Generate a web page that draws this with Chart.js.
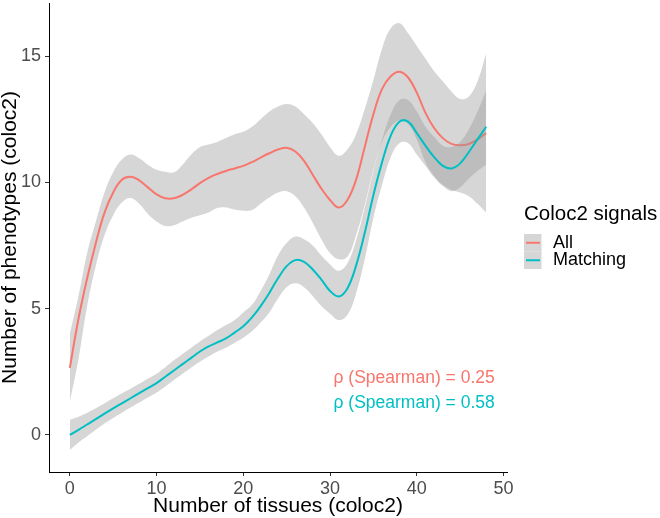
<!DOCTYPE html>
<html>
<head>
<meta charset="utf-8">
<script src="https://cdn.jsdelivr.net/npm/chart.js@4.4.0/dist/chart.umd.min.js"></script>
<style>
  html, body { margin: 0; padding: 0; background: #fff; }
  canvas { display: block; }
</style>
</head>
<body>
<canvas id="colocChart" width="660" height="518"></canvas>
<script>
// number of tissues (x) for the smoothed curves
const tissues = [0, 1, 2, 3, 4, 5, 6, 7, 8, 9, 10, 11, 12, 13, 14, 15, 16, 17, 18, 19, 20, 21, 22, 23, 24,
  25, 26, 27, 28, 29, 30, 31, 32, 33, 34, 35, 36, 37, 38, 39, 40, 41, 42, 43, 44, 45, 46, 47, 48];

// "All" signals: fit and confidence band
const allFit = [2.65, 4.6, 6.2, 7.6, 8.8, 9.6, 10.1, 10.22, 10.08, 9.8, 9.52, 9.37, 9.37, 9.5, 9.72, 9.97,
  10.18, 10.33, 10.45, 10.55, 10.65, 10.8, 10.98, 11.15, 11.3, 11.37, 11.22, 10.85, 10.3, 9.75, 9.3, 9.0,
  9.3, 10.1, 11.4, 12.7, 13.7, 14.2, 14.38, 14.15, 13.55, 12.75, 12.15, 11.75, 11.52, 11.47, 11.52, 11.7, 11.95];
const allUpper = [4.0, 5.5, 7.2, 8.45, 9.6, 10.4, 10.9, 11.1, 10.95, 10.7, 10.5, 10.42, 10.4, 10.7, 11.1, 11.4,
  11.5, 11.6, 11.75, 11.9, 12.0, 12.2, 12.5, 12.8, 13.0, 13.1, 13.0, 12.7, 12.35, 11.9, 11.4, 11.05,
  11.3, 11.9, 12.9, 14.05, 15.3, 16.1, 16.3, 15.9, 15.4, 14.9, 14.4, 14.0, 13.6, 13.3, 13.4, 14.0, 15.1];
const allLower = [1.3, 3.0, 5.1, 6.7, 7.9, 8.7, 9.2, 9.38, 9.15, 8.75, 8.45, 8.27, 8.3, 8.45, 8.6, 8.7,
  8.8, 8.98, 9.0, 8.92, 8.87, 8.9, 9.15, 9.4, 9.6, 9.65, 9.45, 9.0, 8.4, 7.75, 7.2, 6.95,
  7.05, 7.9, 9.1, 10.5, 11.6, 12.2, 12.45, 12.3, 11.7, 10.8, 10.25, 9.9, 9.7, 9.6, 9.45, 9.15, 8.8];

// "Matching" signals: fit and confidence band
const matchFit = [0.0, 0.2, 0.41, 0.62, 0.84, 1.05, 1.25, 1.45, 1.65, 1.85, 2.05, 2.3, 2.55, 2.8, 3.05, 3.3,
  3.5, 3.66, 3.82, 4.05, 4.3, 4.65, 5.1, 5.62, 6.2, 6.68, 6.92, 6.85, 6.55, 6.15, 5.7, 5.48,
  5.8, 6.7, 8.0, 9.5, 10.8, 11.85, 12.4, 12.4, 11.95, 11.45, 11.0, 10.65, 10.55, 10.75, 11.2, 11.7, 12.2];
const matchUpper = [0.6, 0.72, 0.88, 1.05, 1.25, 1.45, 1.65, 1.83, 2.02, 2.22, 2.42, 2.68, 2.95, 3.2, 3.45, 3.7,
  3.92, 4.15, 4.35, 4.55, 4.85, 5.15, 5.7, 6.35, 7.1, 7.6, 7.85, 7.75, 7.5, 7.1, 6.75, 6.5,
  6.8, 7.7, 9.0, 10.45, 11.7, 12.7, 13.25, 13.25, 12.8, 12.2, 11.8, 11.45, 11.4, 11.6, 12.1, 12.8, 13.65];
const matchLower = [-0.6, -0.3, -0.05, 0.2, 0.45, 0.67, 0.88, 1.08, 1.28, 1.48, 1.68, 1.92, 2.17, 2.42, 2.67, 2.9,
  3.1, 3.3, 3.45, 3.65, 3.85, 4.1, 4.45, 4.85, 5.4, 5.85, 6.0, 5.85, 5.5, 5.1, 4.8, 4.55,
  4.75, 5.6, 6.95, 8.6, 9.9, 11.0, 11.55, 11.55, 11.1, 10.65, 10.2, 9.85, 9.65, 9.8, 10.15, 10.45, 10.7];

const xTicks = [0, 10, 20, 30, 40, 50];
const yTicks = [0, 5, 10, 15];
const seriesNames = ["All", "Matching"];
const seriesColors = ["#F8766D", "#00BFC4"];
const rhoLabels = ["ρ (Spearman) = 0.25", "ρ (Spearman) = 0.58"];

const FONT = "'Liberation Sans', Arial, Helvetica, sans-serif";
const bandFill = "rgba(153,153,153,0.4)";

const pts = (ys) => tissues.map((x, i) => ({ x: x, y: ys[i] }));

const band = (ys, order, fill) => ({
  data: pts(ys),
  borderWidth: 0,
  pointRadius: 0,
  tension: 0.4,
  fill: fill,
  backgroundColor: bandFill,
  order: order,
});

const fitLine = (ys, color, order) => ({
  data: pts(ys),
  borderColor: color,
  borderWidth: 2,
  pointRadius: 0,
  tension: 0.4,
  fill: false,
  order: order,
});

// legend + spearman labels, drawn on top
const extras = {
  id: "extras",
  afterDraw(chart) {
    const ctx = chart.ctx;
    const xs = chart.scales.x;
    const ys = chart.scales.y;
    ctx.save();

    // spearman annotations
    ctx.font = "17.5px " + FONT;
    ctx.textAlign = "left";
    ctx.textBaseline = "middle";
    const rhoY = [2.25, 1.27];
    rhoLabels.forEach((t, i) => {
      ctx.fillStyle = seriesColors[i];
      ctx.fillText(t, xs.getPixelForValue(30.4), ys.getPixelForValue(rhoY[i]));
    });

    // legend
    ctx.fillStyle = "#000";
    ctx.font = "20.5px " + FONT;
    ctx.fillText("Coloc2 signals", 524, 214);
    ctx.font = "18px " + FONT;
    seriesNames.forEach((name, i) => {
      const top = 234 + i * 17.5;
      ctx.fillStyle = "#D6D6D6";
      ctx.fillRect(524, top, 17.5, 17.5);
      ctx.strokeStyle = seriesColors[i];
      ctx.lineWidth = 2;
      ctx.beginPath();
      ctx.moveTo(526, top + 8.75);
      ctx.lineTo(540, top + 8.75);
      ctx.stroke();
      ctx.fillStyle = "#000";
      ctx.fillText(name, 553, top + 9);
    });
    ctx.restore();
  },
};

new Chart(document.getElementById("colocChart"), {
  type: "line",
  data: {
    datasets: [
      band(allUpper, 5, "+1"),
      band(allLower, 4, false),
      fitLine(allFit, seriesColors[0], 3),
      band(matchUpper, 2, "+1"),
      band(matchLower, 1, false),
      fitLine(matchFit, seriesColors[1], 0),
    ],
  },
  options: {
    responsive: false,
    animation: false,
    layout: { padding: { left: 0, right: 153, top: 3, bottom: 0 } },
    plugins: {
      legend: { display: false },
      tooltip: { enabled: false },
    },
    scales: {
      x: {
        type: "linear",
        min: -2.4,
        max: 50.4,
        afterBuildTicks: (s) => { s.ticks = xTicks.map((v) => ({ value: v })); },
        afterFit: (s) => {
          s.height = 46;
          s.paddingLeft = 0; s.paddingRight = 0;
        },
        grid: { display: true, drawOnChartArea: false, drawTicks: true, tickLength: 4, color: "#333333" },
        border: { display: true, color: "#000000", width: 1 },
        ticks: { color: "#4D4D4D", font: { family: FONT, size: 18 }, padding: 2, maxRotation: 0 },
        title: {
          display: true,
          text: "Number of tissues (coloc2)",
          color: "#000",
          font: { family: FONT, size: 21, lineHeight: 1.1 },
          padding: { top: 0, bottom: 0 },
        },
      },
      y: {
        type: "linear",
        min: -1.47,
        max: 17.1,
        afterBuildTicks: (s) => { s.ticks = yTicks.map((v) => ({ value: v })); },
        afterFit: (s) => {
          s.width = 49;
          s.paddingTop = 0; s.paddingBottom = 0;
        },
        grid: { display: true, drawOnChartArea: false, drawTicks: true, tickLength: 4, color: "#333333" },
        border: { display: true, color: "#000000", width: 1 },
        ticks: { color: "#4D4D4D", font: { family: FONT, size: 18 }, padding: 4 },
        title: {
          display: true,
          text: "Number of phenotypes (coloc2)",
          color: "#000",
          font: { family: FONT, size: 21, lineHeight: 1.0 },
          padding: { top: 0, bottom: 0 },
        },
      },
    },
  },
  plugins: [extras],
});
</script>
</body>
</html>
